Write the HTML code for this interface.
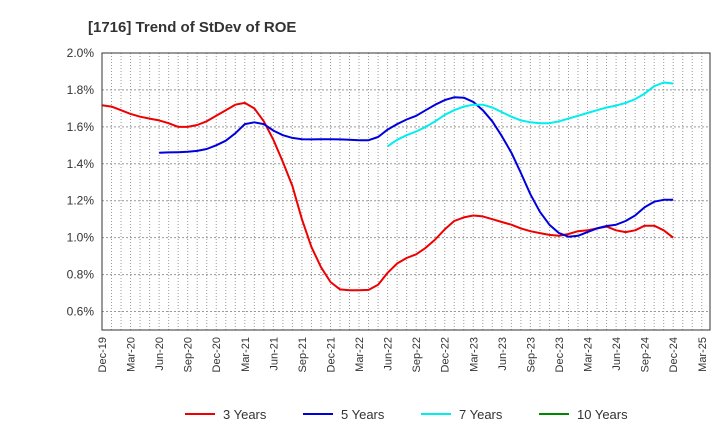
<!DOCTYPE html>
<html><head><meta charset="utf-8"><style>
body{margin:0;background:#fff;font-family:"Liberation Sans",sans-serif}
svg text{font-family:"Liberation Sans",sans-serif}
</style></head><body>
<svg id="chart" width="720" height="440" xmlns="http://www.w3.org/2000/svg">
<text x="88" y="32" font-size="15" font-weight="bold" fill="#333">[1716]  Trend of StDev of ROE</text>
<g id="grid"></g><g id="series"></g><g id="axes"></g><g id="legend"></g>
</svg>
<script>
const yTicks=[0.6,0.8,1.0,1.2,1.4,1.6,1.8,2.0];
const xLabels=["Dec-19","Mar-20","Jun-20","Sep-20","Dec-20","Mar-21","Jun-21","Sep-21","Dec-21","Mar-22","Jun-22","Sep-22","Dec-22","Mar-23","Jun-23","Sep-23","Dec-23","Mar-24","Jun-24","Sep-24","Dec-24","Mar-25"];
const s3=[1.717,1.71,1.69,1.67,1.655,1.645,1.635,1.62,1.60,1.60,1.61,1.63,1.66,1.69,1.72,1.73,1.70,1.63,1.53,1.41,1.28,1.10,0.95,0.84,0.76,0.72,0.715,0.715,0.717,0.745,0.81,0.86,0.89,0.91,0.945,0.99,1.045,1.09,1.11,1.12,1.115,1.10,1.085,1.07,1.05,1.035,1.025,1.015,1.01,1.02,1.035,1.04,1.05,1.06,1.04,1.03,1.04,1.065,1.065,1.04,1.00];
const s5=[null,null,null,null,null,null,1.46,1.462,1.463,1.465,1.47,1.48,1.50,1.525,1.565,1.615,1.625,1.615,1.58,1.555,1.54,1.533,1.532,1.533,1.533,1.532,1.53,1.527,1.528,1.545,1.585,1.615,1.64,1.66,1.69,1.72,1.745,1.76,1.758,1.735,1.69,1.63,1.55,1.46,1.35,1.235,1.14,1.07,1.025,1.005,1.01,1.03,1.05,1.063,1.07,1.09,1.12,1.165,1.195,1.205,1.205];
const s7=[null,null,null,null,null,null,null,null,null,null,null,null,null,null,null,null,null,null,null,null,null,null,null,null,null,null,null,null,null,null,1.495,1.53,1.555,1.575,1.60,1.63,1.665,1.69,1.71,1.72,1.72,1.705,1.68,1.655,1.635,1.625,1.62,1.62,1.63,1.645,1.66,1.675,1.69,1.705,1.715,1.73,1.75,1.78,1.82,1.84,1.835];
const s10=[];
const L=102,R=710,T=53,B=330,yMin=0.5,yMax=2.0,monthPx=9.52;
const xS=i=>L+monthPx*i;
const yS=v=>B-(v-yMin)/(yMax-yMin)*(B-T);
const NS="http://www.w3.org/2000/svg";
function mk(tag,attrs,parent){const e=document.createElementNS(NS,tag);for(const k in attrs)e.setAttribute(k,attrs[k]);parent.appendChild(e);return e;}
const grid=document.getElementById('grid'),axes=document.getElementById('axes'),ser=document.getElementById('series'),leg=document.getElementById('legend');
for(let i=1;xS(i)<R;i++){const g=mk('line',{x1:xS(i),x2:xS(i),y1:T,y2:B,stroke:'#999','stroke-dasharray':'1,2','stroke-width':1},grid);

}
yTicks.forEach(v=>{const g=mk('line',{x1:L,x2:R,y1:yS(v),y2:yS(v),stroke:'#999','stroke-dasharray':'2,2','stroke-width':1},grid);


const t=mk('text',{x:L-8,y:yS(v)+4,'text-anchor':'end','font-size':12,fill:'#333'},axes);t.textContent=v.toFixed(1)+'%';

});
xLabels.forEach((s,i)=>{const x=xS(i*3);const t=mk('text',{transform:`translate(${x+4},${B+7}) rotate(-90)`,'text-anchor':'end','font-size':11,fill:'#333'},axes);t.textContent=s;

});
const frame=mk('rect',{x:L,y:T,width:R-L,height:B-T,fill:'none',stroke:'#333','stroke-width':1},axes);


function line(arr,color,name){let d='';let pen=false;arr.forEach((v,i)=>{if(v==null){pen=false;return;}d+=(pen?'L':'M')+xS(i).toFixed(1)+','+yS(v).toFixed(1);pen=true;});
if(!d)return;const p=mk('path',{d:d,fill:'none',stroke:color,'stroke-width':2,'stroke-linejoin':'round'},ser);

}
line(s3,'#ee0000','line-3-years');line(s5,'#0000dd','line-5-years');line(s7,'#00eeee','line-7-years');line(s10,'#008800','line-10-years');
const items=[["3 Years","#ee0000",185],["5 Years","#0000dd",303],["7 Years","#00eeee",421],["10 Years","#008800",539]];
items.forEach(([lab,c,x])=>{const g=mk('g',{},leg);


mk('line',{x1:x,x2:x+30,y1:414,y2:414,stroke:c,'stroke-width':2},g);
const t=mk('text',{x:x+38,y:419,'font-size':13,fill:'#333'},g);t.textContent=lab;});
</script>
</body></html>
